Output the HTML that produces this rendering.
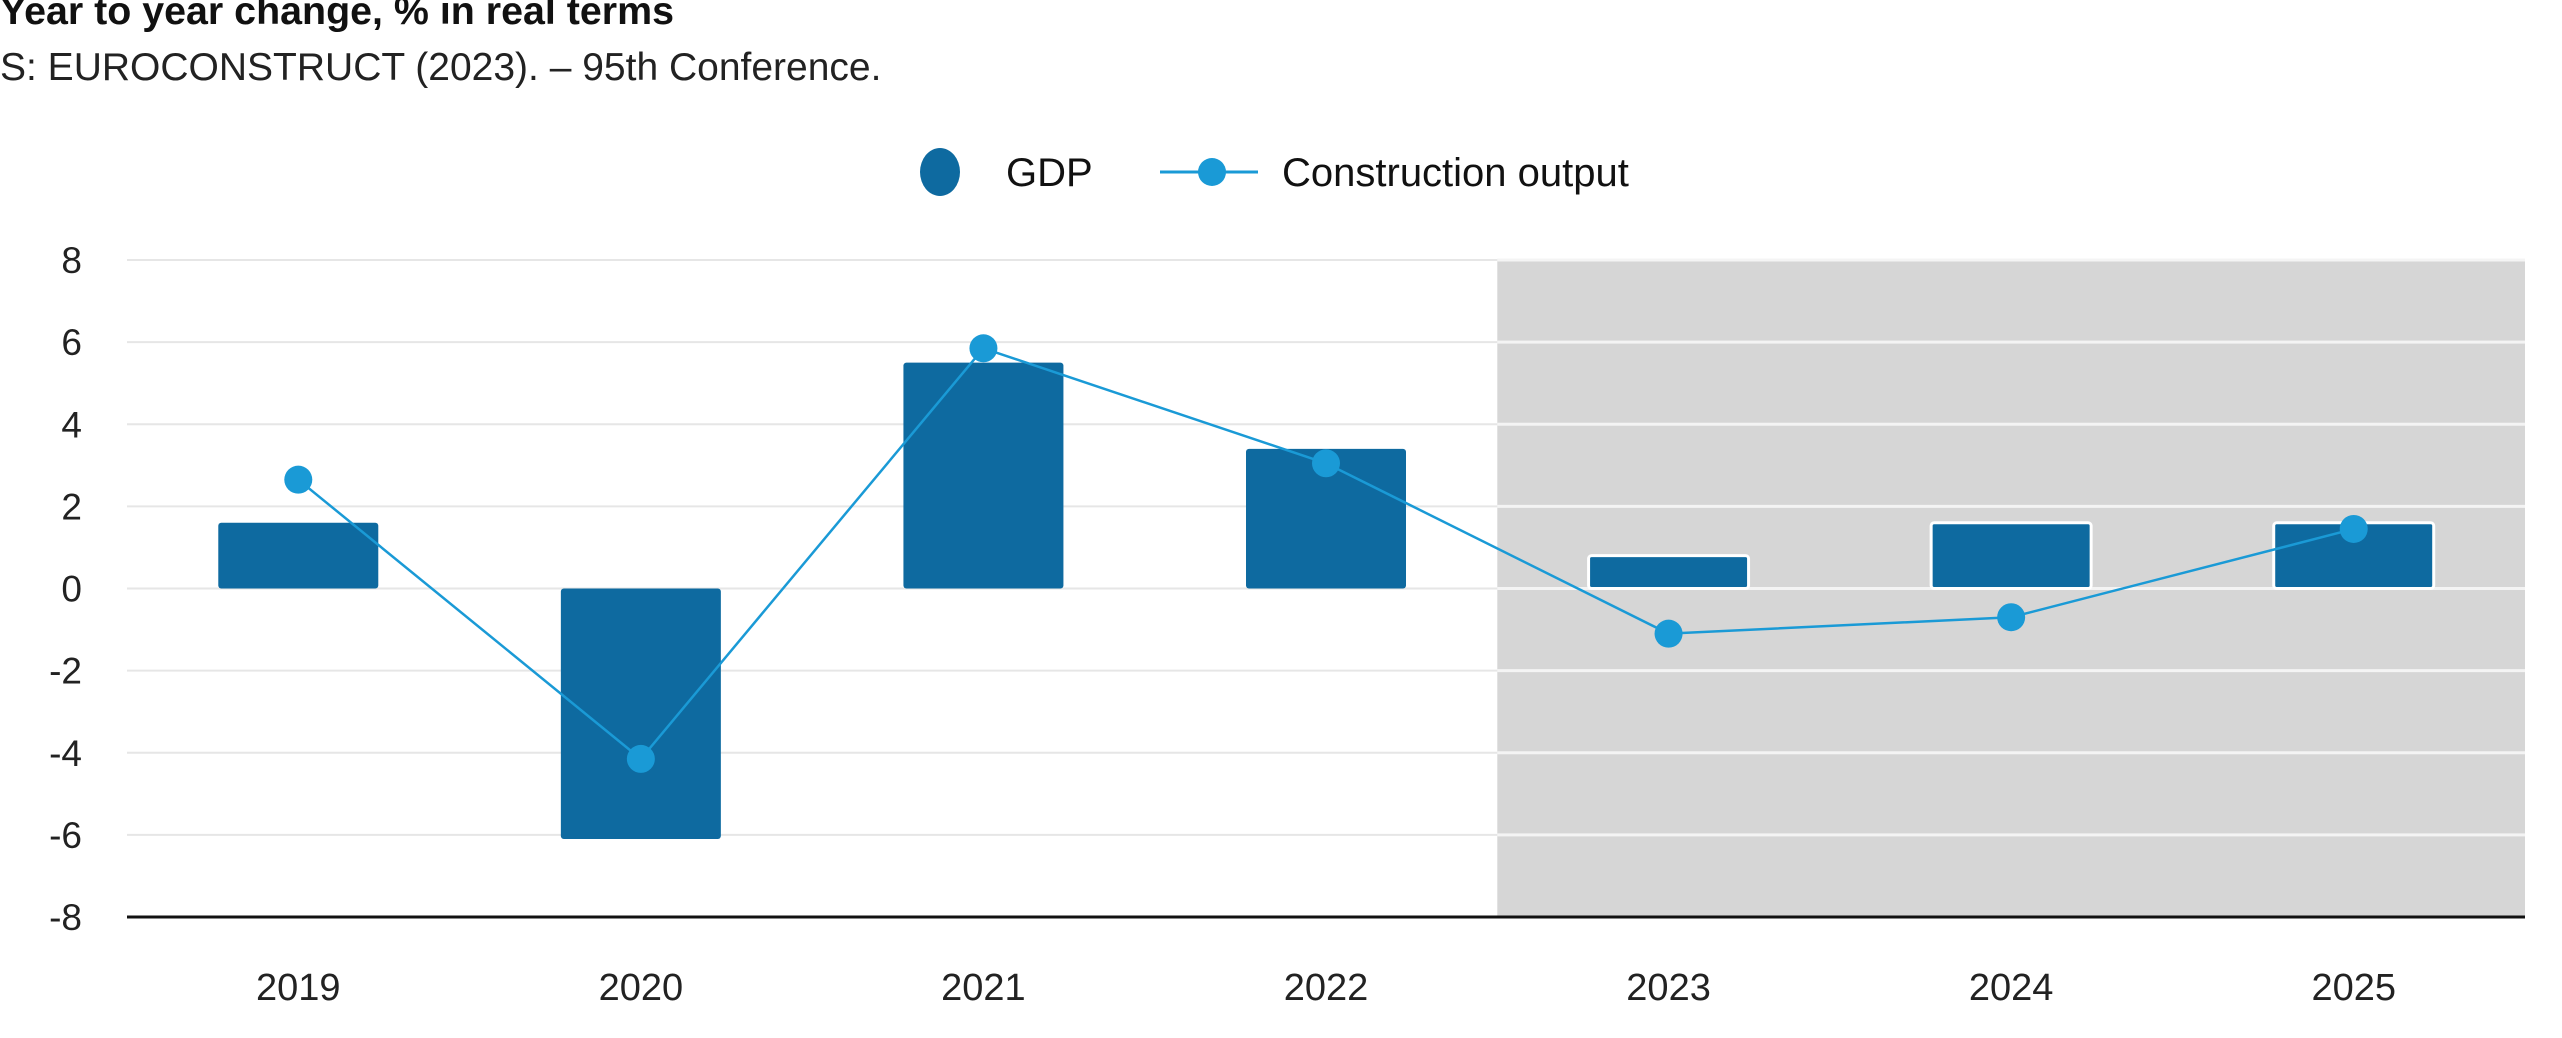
<!DOCTYPE html>
<html><head><meta charset="utf-8"><style>
body{margin:0;background:#fff;}
svg{display:block;font-family:"Liberation Sans",sans-serif;}
</style></head><body>
<svg width="2562" height="1038" viewBox="0 0 2562 1038" id="chart">
<text x="0" y="24" font-size="39" font-weight="bold" fill="#111" textLength="674" lengthAdjust="spacingAndGlyphs">Year to year change, % in real terms</text>
<text x="0" y="80" font-size="39" fill="#222">S: EUROCONSTRUCT (2023). – 95th Conference.</text>
<g>
<g><ellipse cx="940" cy="172" rx="20" ry="24" fill="#0e6aa0"/><text x="1006" y="186" font-size="40" fill="#111">GDP</text></g>
<g><line x1="1160" y1="172" x2="1258" y2="172" stroke="#1a9ad6" stroke-width="3"/><circle cx="1212" cy="172" r="14" fill="#1a9ad6"/><text x="1282" y="186" font-size="40" fill="#111">Construction output</text></g>
</g>
<g id="plot"></g>
</svg>
<script>
const categories=["2019","2020","2021","2022","2023","2024","2025"];
const gdpValues=[1.6,-6.1,5.5,3.4,0.8,1.6,1.6];
const constructionValues=[2.65,-4.15,5.85,3.05,-1.1,-0.7,1.45];
const yTicks=[8,6,4,2,0,-2,-4,-6,-8];
const forecastStart=4;
const L=127,R=2525,T=260,B=917,yMin=-8,yMax=8;
const band=(R-L)/categories.length;
const x=i=>L+band*(i+0.5);
const y=v=>B-(v-yMin)/(yMax-yMin)*(B-T);
const NS="http://www.w3.org/2000/svg";
const g=document.getElementById('plot');
function mk(t,a){const e=document.createElementNS(NS,t);for(const k in a)e.setAttribute(k,a[k]);g.appendChild(e);return e;}
const sh=mk('rect',{x:L+band*forecastStart,y:T,width:R-(L+band*forecastStart),height:B-T,fill:'#d6d6d6'});


yTicks.forEach(t=>{
 if(t!==yMin){const l=mk('line',{x1:L,x2:R,y1:y(t),y2:y(t),stroke:'#e6e6e6','stroke-width':2});
 
 }
 const tx=mk('text',{x:82,y:y(t)+13,'font-size':37,'text-anchor':'end',fill:'#222'});tx.textContent=t;
 
 
});
yTicks.forEach(t=>{if(t!==yMin){const l=mk('line',{x1:L+band*forecastStart,x2:R,y1:y(t),y2:y(t),stroke:'#f4f4f4','stroke-width':3});

}});
const bw=160;
gdpValues.forEach((v,i)=>{
 const y0=y(Math.max(v,0)),h=Math.abs(y(v)-y(0));
 const r=mk('rect',{x:x(i)-bw/2,y:y0,width:bw,height:h,fill:'#0e6aa0',rx:3,stroke:i>=forecastStart?'#fff':'none','stroke-width':3});
 
 
});
const ax=mk('line',{x1:L,x2:R,y1:B,y2:B,stroke:'#111','stroke-width':3});


const pl=mk('polyline',{points:constructionValues.map((v,i)=>x(i)+','+y(v)).join(' '),fill:'none',stroke:'#1a9ad6','stroke-width':2.5});


constructionValues.forEach((v,i)=>{
 const c=mk('circle',{cx:x(i),cy:y(v),r:14,fill:'#1a9ad6'});
 
 
});
categories.forEach((c,i)=>{
 const t=mk('text',{x:x(i),y:1000,'font-size':38,'text-anchor':'middle',fill:'#222'});t.textContent=c;
 
 
});
</script>
</body></html>
